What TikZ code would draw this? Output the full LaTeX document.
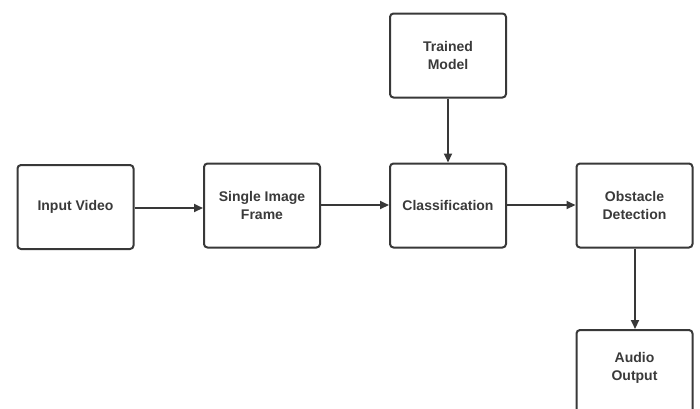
\documentclass[tikz,border=0pt]{standalone}
\usepackage{fontspec}
\setmainfont{Liberation Sans}
\usetikzlibrary{arrows.meta}
\definecolor{ln}{HTML}{383838}
\definecolor{tx}{HTML}{3A3A3A}
\begin{document}
\begin{tikzpicture}[x=1pt,y=-1pt,
  blk/.style={draw=ln, line width=2pt, rounded corners=3.5pt, fill=white,
    minimum width=116pt, minimum height=84pt, inner sep=0pt,
    align=center, text=tx, font=\fontsize{14}{18}\selectfont\bfseries},
  conn/.style={draw=ln, line width=2pt, -{Triangle[length=9pt,width=8pt]}}]
\useasboundingbox (0,0) rectangle (700,408);
\clip (0,0) rectangle (700,408);
\node[blk] (iv) at (75.5,207) {Input Video};
\node[blk] (sf) at (262,205.5) {Single Image\\Frame};
\node[blk] (cl) at (448,205.5) {Classification};
\node[blk] (tm) at (448,55.5) {Trained\\Model};
\node[blk] (od) at (634.5,205.5) {Obstacle\\Detection};
\node[blk, minimum height=86pt] (ao) at (634.5,373) {};
\node[align=center, text=tx, font=\fontsize{14}{18}\selectfont\bfseries] (aot) at (634.5,368) {Audio\\Output};
\draw[conn] (iv.east |- 0,208) -- (sf.west |- 0,208);
\draw[conn] (sf.east |- 0,205) -- (cl.west |- 0,205);
\draw[conn] (cl.east |- 0,205) -- (od.west |- 0,205);
\draw[conn] (tm.south -| 448,0) -- (cl.north -| 448,0);
\draw[conn] (od.south -| 635,0) -- (ao.north -| 635,0);
\end{tikzpicture}
\end{document}
